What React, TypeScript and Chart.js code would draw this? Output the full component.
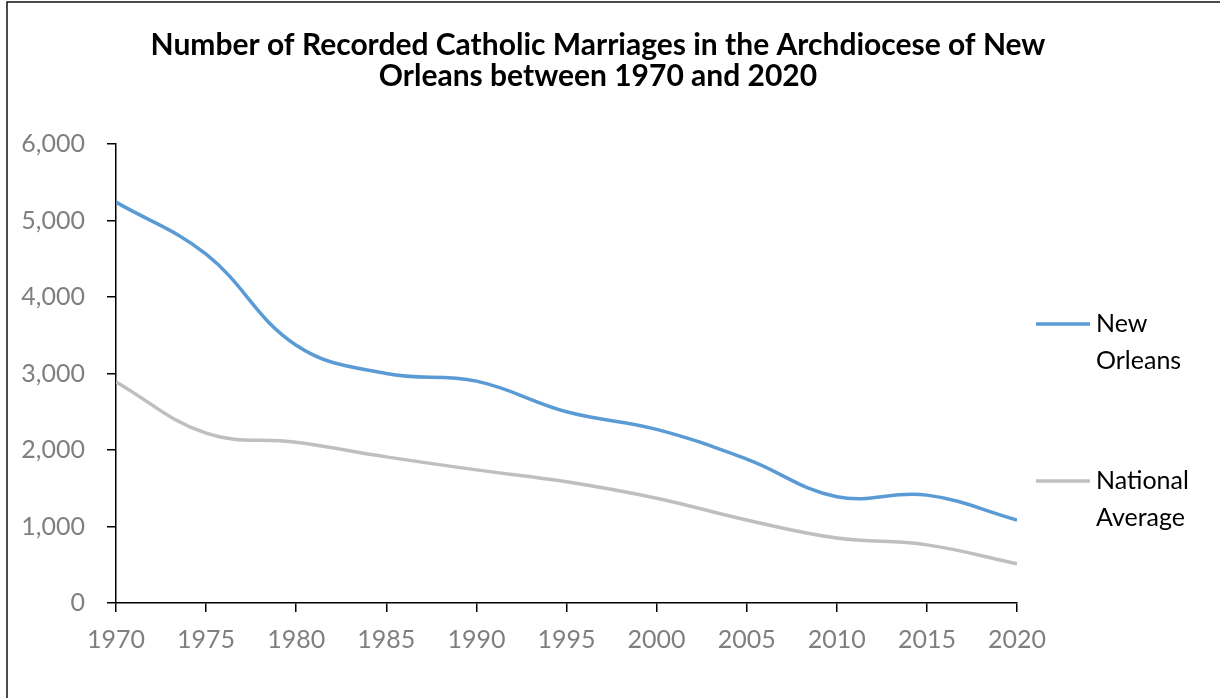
import React, { useEffect, useRef } from "react";
import { Chart, registerables } from "chart.js";

Chart.register(...registerables);

const years = [1970, 1975, 1980, 1985, 1990, 1995, 2000, 2005, 2010, 2015, 2020];
const newOrleans = [5240, 4560, 3370, 3000, 2900, 2500, 2270, 1880, 1390, 1410, 1085];
const nationalAverage = [2890, 2220, 2100, 1910, 1740, 1585, 1370, 1085, 850, 760, 512];
const seriesLabels = ["New Orleans", "National Average"];
const seriesColors = ["#5b9bd5", "#bfbfbf"];
const titleLines = [
  "Number of Recorded Catholic Marriages in the Archdiocese of New",
  "Orleans between 1970 and 2020",
];
const yMin = 0;
const yMax = 6000;
const yStep = 1000;
const xStep = 5;

const FONT = "Lato, 'Open Sans', sans-serif";

const decorPlugin = {
  id: "decor",
  beforeDraw(chart: any) {
    const ctx = chart.ctx;
    ctx.save();
    ctx.strokeStyle = "#111";
    ctx.lineWidth = 1.5;
    ctx.beginPath();
    ctx.moveTo(7, 700);
    ctx.lineTo(7, 2);
    ctx.lineTo(1222, 2);
    ctx.stroke();
    ctx.restore();
  },
  afterDraw(chart: any) {
    const ctx = chart.ctx;
    ctx.save();
    // title
    ctx.fillStyle = "#000";
    ctx.font = `bold 30px ${FONT}`;
    ctx.textAlign = "center";
    ctx.textBaseline = "middle";
    titleLines.forEach((line, i) => ctx.fillText(line, 598, 45 + i * 31));
    // legend
    const legendY = [324, 481];
    chart.data.datasets.forEach((ds: any, i: number) => {
      const y = legendY[i];
      ctx.strokeStyle = ds.borderColor;
      ctx.lineWidth = 3.5;
      ctx.beginPath();
      ctx.moveTo(1036, y);
      ctx.lineTo(1090, y);
      ctx.stroke();
      ctx.fillStyle = "#000";
      ctx.font = `25px ${FONT}`;
      ctx.textAlign = "left";
      ctx.textBaseline = "middle";
      String(ds.label)
        .split(" ")
        .forEach((w: string, j: number) => ctx.fillText(w, 1096, y + j * 36.5));
    });
    ctx.restore();
  },
};

export default function App() {
  const ref = useRef<HTMLCanvasElement | null>(null);
  useEffect(() => {
    if (!ref.current) return;
    const chart = new Chart(ref.current, {
      type: "line",
      data: {
        datasets: [
          {
            label: seriesLabels[0],
            data: years.map((x, i) => ({ x, y: newOrleans[i] })),
            borderColor: seriesColors[0],
            backgroundColor: seriesColors[0],
            borderWidth: 3.5,
            pointRadius: 0,
            tension: 0.4,
            fill: false,
          },
          {
            label: seriesLabels[1],
            data: years.map((x, i) => ({ x, y: nationalAverage[i] })),
            borderColor: seriesColors[1],
            backgroundColor: seriesColors[1],
            borderWidth: 3.5,
            pointRadius: 0,
            tension: 0.4,
            fill: false,
          },
        ],
      },
      options: {
        responsive: false,
        animation: false,
        devicePixelRatio: 1,
        layout: { padding: { left: 0, top: 144, right: 203, bottom: 0 } },
        plugins: {
          legend: { display: false },
          title: { display: false },
          tooltip: { enabled: false },
        },
        scales: {
          x: {
            type: "linear",
            min: years[0],
            max: years[years.length - 1],
            afterFit: (s: any) => {
              s.height = 95;
            },
            ticks: {
              stepSize: xStep,
              padding: 13,
              color: "#7f7f7f",
              font: { family: FONT, size: 25 },
              callback: (v: any) => String(v),
              maxRotation: 0,
              autoSkip: false,
            },
            grid: {
              drawOnChartArea: false,
              drawTicks: true,
              tickLength: 9,
              color: "#000",
              lineWidth: 1.5,
            },
            border: { display: true, color: "#000", width: 1.5 },
          },
          y: {
            min: yMin,
            max: yMax,
            afterFit: (s: any) => {
              s.width = 116;
            },
            ticks: {
              stepSize: yStep,
              padding: 22,
              color: "#7f7f7f",
              font: { family: FONT, size: 25 },
              callback: (v: any) => Number(v).toLocaleString("en-US"),
            },
            grid: {
              drawOnChartArea: false,
              drawTicks: true,
              tickLength: 9,
              color: "#000",
              lineWidth: 1.5,
            },
            border: { display: true, color: "#000", width: 1.5 },
          },
        },
      },
      plugins: [decorPlugin],
    });
    return () => chart.destroy();
  }, []);
  return (
    <div style={{ position: "absolute", left: 0, top: 0, width: 1220, height: 698, background: "#fff" }}>
      <canvas ref={ref} width={1220} height={698} style={{ display: "block" }} />
    </div>
  );
}
